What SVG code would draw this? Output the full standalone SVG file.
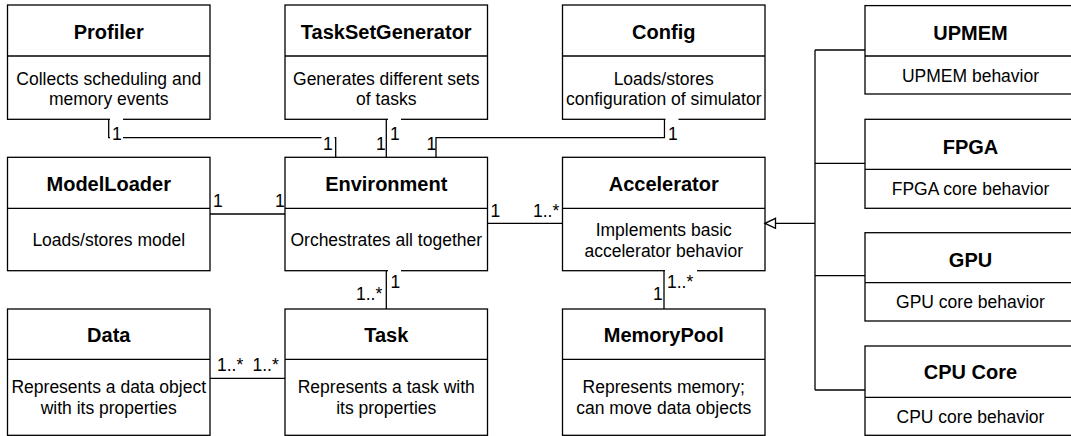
<svg xmlns="http://www.w3.org/2000/svg" width="1071" height="436" viewBox="0 0 1071 436">
<style>
.box{fill:#fff;stroke:#000;stroke-width:1.3}
.div{stroke:#000;stroke-width:1.3}
.ttl{font-family:"Liberation Sans",Arial,sans-serif;font-weight:bold;font-size:20px;text-anchor:middle;fill:#000}
.txt{font-family:"Liberation Sans",Arial,sans-serif;font-size:17.5px;text-anchor:middle;fill:#000}
.lbl{font-family:"Liberation Sans",Arial,sans-serif;font-size:17.5px;fill:#000}
.ln{fill:none;stroke:#000;stroke-width:1.3}
.bg{fill:#fff;stroke:none}
</style>
<defs>
<marker id="gen" markerWidth="14" markerHeight="12" refX="12" refY="6" orient="auto" markerUnits="userSpaceOnUse">
<path d="M12,6 L1.5,1 L1.5,11 Z" fill="#fff" stroke="#000" stroke-width="1.3"/>
</marker>
</defs>

<g id="profiler">
<rect class="box" x="7.5" y="5" width="202.5" height="114.3"/>
<line class="div" x1="7.5" y1="56" x2="210" y2="56"/>
<text class="ttl" x="108.75" y="38.5">Profiler</text>
<text class="txt" x="108.75" y="84.5">Collects scheduling and</text>
<text class="txt" x="108.75" y="105">memory events</text>
</g>
<g id="tasksetgenerator">
<rect class="box" x="285" y="5" width="202.5" height="114.3"/>
<line class="div" x1="285" y1="56" x2="487.5" y2="56"/>
<text class="ttl" x="386.25" y="38.5">TaskSetGenerator</text>
<text class="txt" x="386.25" y="84.5">Generates different sets</text>
<text class="txt" x="386.25" y="105">of tasks</text>
</g>
<g id="config">
<rect class="box" x="562.5" y="5" width="202.5" height="114.3"/>
<line class="div" x1="562.5" y1="56" x2="765" y2="56"/>
<text class="ttl" x="663.75" y="38.5">Config</text>
<text class="txt" x="663.75" y="84.5">Loads/stores</text>
<text class="txt" x="663.75" y="105">configuration of simulator</text>
</g>
<g id="modelloader">
<rect class="box" x="7.5" y="157.3" width="202.5" height="113.4"/>
<line class="div" x1="7.5" y1="208.3" x2="210" y2="208.3"/>
<text class="ttl" x="108.75" y="190.5">ModelLoader</text>
<text class="txt" x="108.75" y="246">Loads/stores model</text>
</g>
<g id="environment">
<rect class="box" x="285" y="157.3" width="202.5" height="113.4"/>
<line class="div" x1="285" y1="208.3" x2="487.5" y2="208.3"/>
<text class="ttl" x="386.25" y="190.5">Environment</text>
<text class="txt" x="386.25" y="246">Orchestrates all together</text>
</g>
<g id="accelerator">
<rect class="box" x="562.5" y="157.3" width="202.5" height="113.4"/>
<line class="div" x1="562.5" y1="208.3" x2="765" y2="208.3"/>
<text class="ttl" x="663.75" y="190.5">Accelerator</text>
<text class="txt" x="663.75" y="236">Implements basic</text>
<text class="txt" x="663.75" y="256.5">accelerator behavior</text>
</g>
<g id="data">
<rect class="box" x="7.5" y="309" width="202.5" height="126.3"/>
<line class="div" x1="7.5" y1="359.3" x2="210" y2="359.3"/>
<text class="ttl" x="108.75" y="342">Data</text>
<text class="txt" x="108.75" y="393">Represents a data object</text>
<text class="txt" x="108.75" y="414">with its properties</text>
</g>
<g id="task">
<rect class="box" x="285" y="309" width="202.5" height="126.3"/>
<line class="div" x1="285" y1="359.3" x2="487.5" y2="359.3"/>
<text class="ttl" x="386.25" y="342">Task</text>
<text class="txt" x="386.25" y="393">Represents a task with</text>
<text class="txt" x="386.25" y="414">its properties</text>
</g>
<g id="memorypool">
<rect class="box" x="562.5" y="309" width="202.5" height="126.3"/>
<line class="div" x1="562.5" y1="359.3" x2="765" y2="359.3"/>
<text class="ttl" x="663.75" y="342">MemoryPool</text>
<text class="txt" x="663.75" y="393">Represents memory;</text>
<text class="txt" x="663.75" y="414">can move data objects</text>
</g>
<g id="upmem">
<rect class="box" x="865" y="5.6" width="211" height="88.4"/>
<line class="div" x1="865" y1="56" x2="1076" y2="56"/>
<text class="ttl" x="970.5" y="40">UPMEM</text>
<text class="txt" x="970.5" y="81.5">UPMEM behavior</text>
</g>
<g id="fpga">
<rect class="box" x="865" y="119.3" width="211" height="89"/>
<line class="div" x1="865" y1="169.3" x2="1076" y2="169.3"/>
<text class="ttl" x="970.5" y="153.5">FPGA</text>
<text class="txt" x="970.5" y="195">FPGA core behavior</text>
</g>
<g id="gpu">
<rect class="box" x="865" y="232.7" width="211" height="88.3"/>
<line class="div" x1="865" y1="282.7" x2="1076" y2="282.7"/>
<text class="ttl" x="970.5" y="266.5">GPU</text>
<text class="txt" x="970.5" y="308">GPU core behavior</text>
</g>
<g id="cpucore">
<rect class="box" x="865" y="346" width="211" height="89.3"/>
<line class="div" x1="865" y1="397.3" x2="1076" y2="397.3"/>
<text class="ttl" x="970.5" y="378.5">CPU Core</text>
<text class="txt" x="970.5" y="422.5">CPU core behavior</text>
</g>

<g id="connectors">
<polyline class="ln" points="108.7,119.3 108.7,137.7 335.7,137.7 335.7,157.3"/>
<line class="ln" x1="386.3" y1="119.3" x2="386.3" y2="157.3"/>
<polyline class="ln" points="664.5,119.3 664.5,137.7 436,137.7 436,157.3"/>
<line class="ln" x1="210" y1="214" x2="285" y2="214"/>
<line class="ln" x1="487.5" y1="223.3" x2="562.5" y2="223.3"/>
<line class="ln" x1="386.3" y1="270.7" x2="386.3" y2="309"/>
<line class="ln" x1="664" y1="270.7" x2="664" y2="309"/>
<line class="ln" x1="210" y1="378.3" x2="285" y2="378.3"/>
<polyline class="ln" points="815,50 815,390"/>
<line class="ln" x1="815" y1="50" x2="865" y2="50"/>
<line class="ln" x1="815" y1="163.3" x2="865" y2="163.3"/>
<line class="ln" x1="815" y1="275.7" x2="865" y2="275.7"/>
<line class="ln" x1="815" y1="390" x2="865" y2="390"/>
<line class="ln" x1="815" y1="223.3" x2="765" y2="223.3" marker-end="url(#gen)"/>

<rect class="bg" x="110" y="118" width="13" height="23"/>
<rect class="bg" x="321.5" y="131" width="13" height="21"/>
<rect class="bg" x="388" y="118" width="13" height="23"/>
<rect class="bg" x="665.5" y="118" width="13" height="23"/>
<rect class="bg" x="388" y="269" width="13" height="21"/>
<rect class="bg" x="665" y="269" width="32" height="21"/>

<text class="lbl" x="112" y="139.5">1</text>
<text class="lbl" x="323" y="150">1</text>
<text class="lbl" x="390" y="140">1</text>
<text class="lbl" x="376" y="150">1</text>
<text class="lbl" x="426.5" y="150">1</text>
<text class="lbl" x="668" y="140">1</text>
<text class="lbl" x="213" y="206.5">1</text>
<text class="lbl" x="275" y="206.5">1</text>
<text class="lbl" x="490.5" y="216.5">1</text>
<text class="lbl" x="533" y="216.5">1..*</text>
<text class="lbl" x="390.5" y="288">1</text>
<text class="lbl" x="356" y="300">1..*</text>
<text class="lbl" x="667" y="288">1..*</text>
<text class="lbl" x="653" y="300">1</text>
<text class="lbl" x="217" y="370.5">1..*</text>
<text class="lbl" x="252.5" y="370.5">1..*</text>
</g>
</svg>
